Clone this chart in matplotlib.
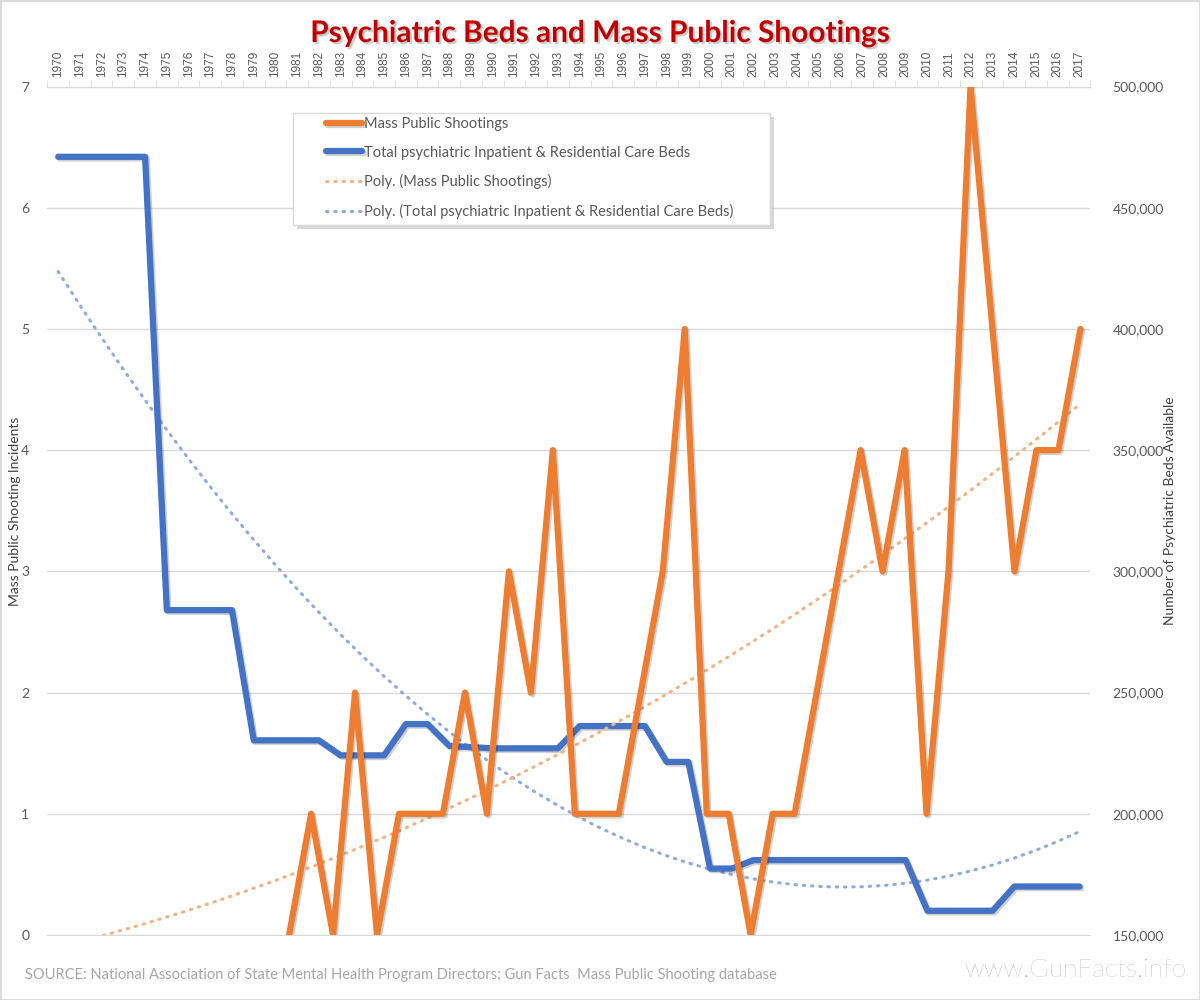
import numpy as np
import matplotlib
matplotlib.use('Agg')
import matplotlib.pyplot as plt
import matplotlib.patheffects as pe
from matplotlib.patches import Rectangle
from matplotlib.ticker import FuncFormatter

plt.rcParams['font.family'] = ['Lato', 'DejaVu Sans']

# data (1970-1980: shootings left blank, counted as 0 in the trend)
years = list(range(1970, 2018))
shootings = [None, None, None, None, None, None, None, None, None, None, None,
             0, 1, 0, 2, 0, 1, 1, 1, 2, 1, 3, 2, 4, 1, 1, 1, 2, 3, 5,
             1, 1, 0, 1, 1, 2, 3, 4, 3, 4, 1, 3, 7, 5, 3, 4, 4, 5]
beds = [471000, 471000, 471000, 471000, 471000,
        284000, 284000, 284000, 284000,
        230300, 230300, 230300, 230300,
        224100, 224100, 224100,
        237000, 237000,
        228000, 227500, 227000, 227000, 227000, 227000,
        236200, 236200, 236200, 236200,
        221400, 221400,
        177400, 177400,
        180900, 180900, 180900, 180900, 180900, 180900, 180900, 180900,
        160000, 160000, 160000, 160000,
        170000, 170000, 170000, 170000]

orange = '#ED7D31'
blue = '#4472C4'
grey = '#595959'
grid = '#D9D9D9'

t = np.arange(len(years))
s = np.array([np.nan if v is None else v for v in shootings], dtype=float)
b = np.array(beds, dtype=float)

# 2nd order polynomial trendlines (Excel style)
s_trend = np.polyval(np.polyfit(t, np.nan_to_num(s), 2), t)
b_trend = np.polyval(np.polyfit(t, b, 2), t)

W, H = 1200, 1000
fig = plt.figure(figsize=(12, 10), dpi=100)
fig.add_artist(Rectangle((0, 0), 1, 1, transform=fig.transFigure, fill=False,
                         edgecolor=grid, lw=2))

rect = [47.3 / W, 65 / H, (1090.4 - 47.3) / W, (935 - 86.5) / H]
# beds: secondary axis, categories between tick marks
axb = fig.add_axes(rect)
# shootings: primary axis, categories on tick marks (drawn on top)
axo = fig.add_axes(rect)
axo.patch.set_visible(False)

shadow = [pe.SimpleLineShadow(offset=(1.2, -1.2), shadow_color='k', alpha=0.18), pe.Normal()]
dots = (0, (0.5, 2.2))

l4, = axb.plot(t, b_trend, color='#8FAADC', lw=2.2, ls=dots, dash_capstyle='round',
               label='Poly. (Total psychiatric Inpatient & Residential Care Beds)')
l2, = axb.plot(t, b, color=blue, lw=4.5, solid_joinstyle='round', solid_capstyle='round',
               path_effects=shadow, label='Total psychiatric Inpatient & Residential Care Beds')
l3, = axo.plot(t, s_trend, color='#F4B183', lw=2.2, ls=dots, dash_capstyle='round',
               label='Poly. (Mass Public Shootings)')
l1, = axo.plot(t, s, color=orange, lw=4.5, solid_joinstyle='round', solid_capstyle='round',
               path_effects=shadow, label='Mass Public Shootings')

axb.set_xlim(-0.5, len(years) - 0.5)
axb.set_ylim(150000, 500000)
axo.set_xlim(0, (len(years) - 1) * (1090.4 - 47.3) / (1080.4 - 47.3))
axo.set_ylim(0, 7)

# category labels on top of the beds axis
axb.xaxis.tick_top()
axb.set_xticks(t)
axb.set_xticklabels(years, rotation=90, fontsize=8.5, color=grey, family='Liberation Sans')
axb.set_xticks(np.arange(-0.5, len(years), 1), minor=True)
axb.tick_params(axis='x', which='major', length=0, pad=7)
axb.tick_params(axis='x', which='minor', length=5, color=grid, top=True, bottom=False)

axb.yaxis.tick_right()
axb.set_yticks(range(150000, 500001, 50000))
axb.yaxis.set_major_formatter(FuncFormatter(lambda v, p: '{:,.0f}'.format(v)))
axb.tick_params(axis='y', length=0, pad=16, labelsize=10, labelcolor=grey)
axb.yaxis.grid(True, color=grid, lw=1)
axb.set_axisbelow(True)

axo.set_xticks([])
axo.set_yticks(range(8))
axo.tick_params(axis='y', length=0, pad=13, labelsize=10, labelcolor=grey)

for a in (axb, axo):
    for sp in a.spines.values():
        sp.set_visible(False)
axb.spines['top'].set_visible(True)
axb.spines['top'].set_color(grid)
axb.spines['bottom'].set_visible(True)
axb.spines['bottom'].set_color(grid)

fig.text(15 / W, 1 - 511 / H, 'Mass Public Shooting Incidents', rotation=90,
         ha='center', va='center', fontsize=10, color='#404040')
fig.text(1170 / W, 1 - 511 / H, 'Number of Psychiatric Beds Available', rotation=90,
         ha='center', va='center', fontsize=10, color='#404040')

fig.text(0.5, 1 - 33 / H, 'Psychiatric Beds and Mass Public Shootings', ha='center',
         va='center', fontsize=21.5, weight='bold', color='#C00000',
         path_effects=[pe.withSimplePatchShadow(offset=(1.5, -1.5), shadow_rgbFace='k', alpha=0.2)])

fig.text(25 / W, 1 - 975 / H,
         'SOURCE: National Association of State Mental Health Program Directors; Gun Facts  Mass Public Shooting database',
         ha='left', va='center', fontsize=10.5, color='#A6A6A6')
fig.text(1186 / W, 1 - 970 / H, 'www.GunFacts.info', ha='right', va='center',
         fontsize=19, color='#999999', weight='light')

# legend box with drop shadow
fig.add_artist(Rectangle((297 / W, 1 - 229 / H), 477 / W, 112 / H, transform=fig.transFigure,
                         facecolor='#BFBFBF', edgecolor='none', alpha=0.6, zorder=5))
fig.add_artist(Rectangle((293 / W, 1 - 225 / H), 477 / W, 112 / H, transform=fig.transFigure,
                         facecolor='white', edgecolor=grid, lw=1, zorder=6))
leg = fig.legend([l1, l2, l3, l4], [h.get_label() for h in (l1, l2, l3, l4)],
                 loc='upper left', bbox_to_anchor=(326 / W, 1 - 117 / H), frameon=False,
                 fontsize=10.5, handlelength=2.5, handletextpad=0.1, labelspacing=1.0,
                 borderpad=0, borderaxespad=0, labelcolor=grey)
leg.set_zorder(7)

fig.savefig('out.png', dpi=100)
